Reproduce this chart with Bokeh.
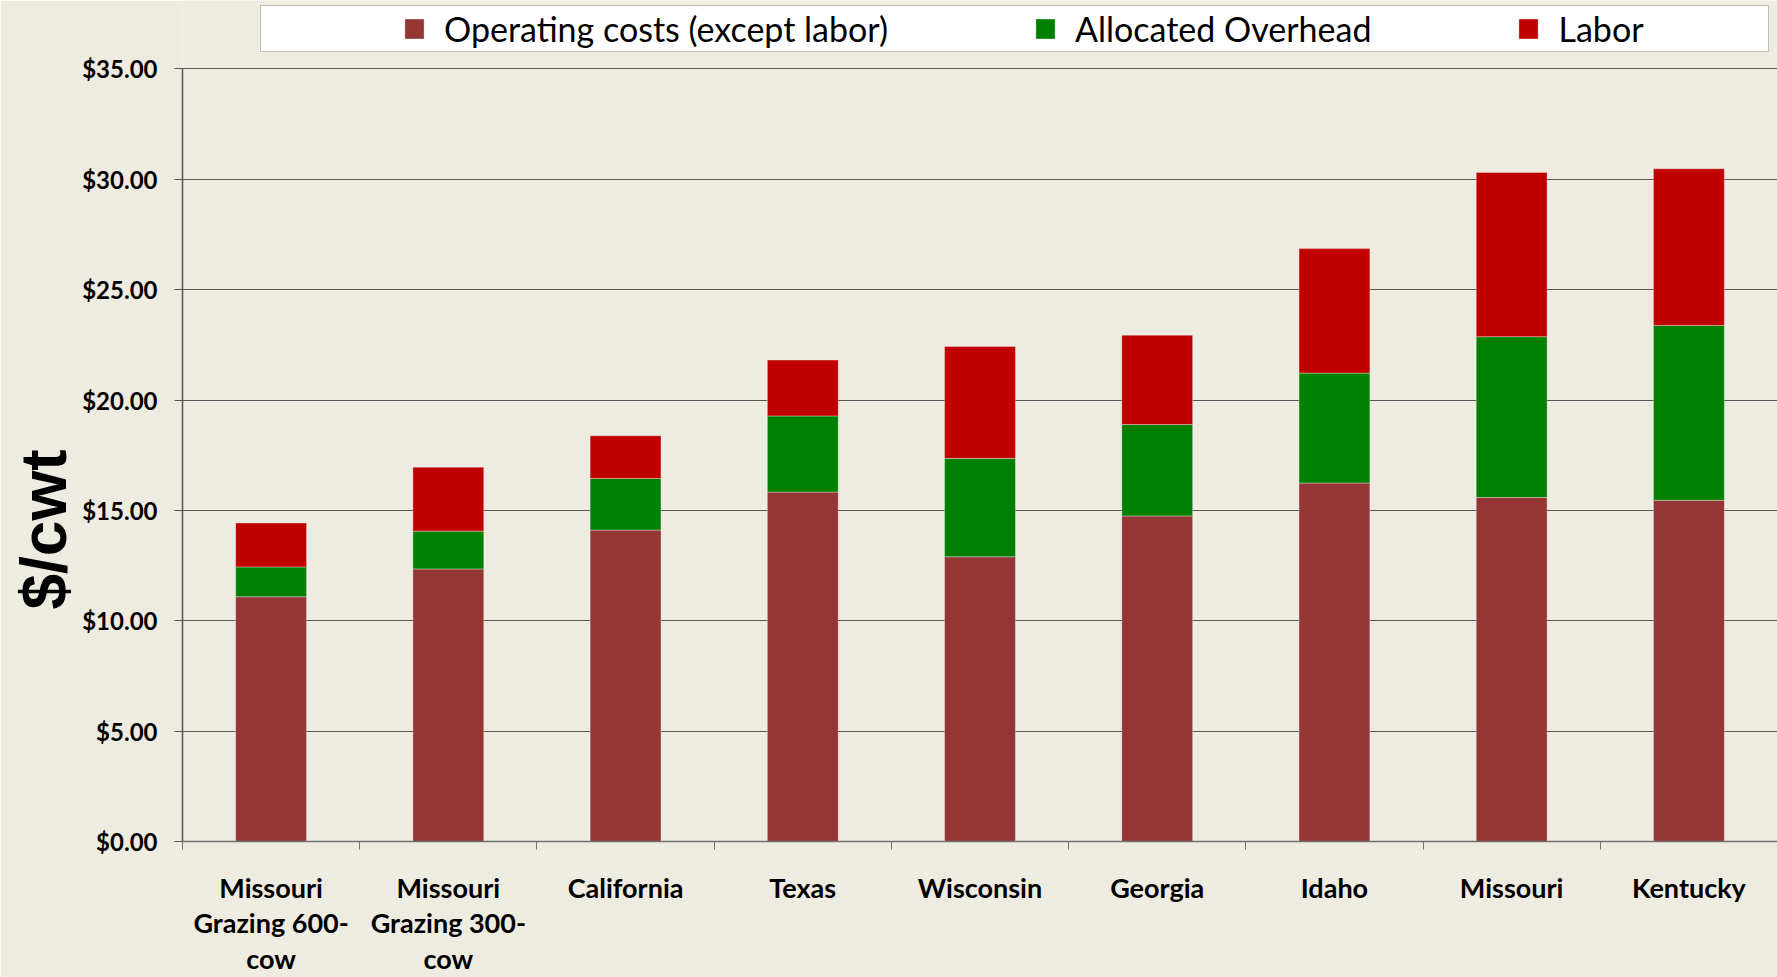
from bokeh.plotting import figure
from bokeh.models import (Range1d, LinearAxis, FixedTicker, NumeralTickFormatter, Legend,
                          LegendItem, Title, ColumnDataSource)
from bokeh.embed import file_html
from bokeh.resources import INLINE

# ---------------- data ----------------
categories = ["Missouri\nGrazing 600-\ncow", "Missouri\nGrazing 300-\ncow", "California", "Texas",
              "Wisconsin", "Georgia", "Idaho", "Missouri", "Kentucky"]
operating = [11.09, 12.35, 14.11, 15.83, 12.90, 14.75, 16.24, 15.59, 15.46]
overhead = [1.35, 1.71, 2.34, 3.45, 4.46, 4.14, 4.98, 7.28, 7.92]
labor = [1.99, 2.90, 1.93, 2.53, 5.06, 4.05, 5.64, 7.44, 7.10]
series_names = ["Operating costs (except labor)", "Allocated Overhead", "Labor"]
y_ticks = [0, 5, 10, 15, 20, 25, 30, 35]
y_title = "$/cwt"

# ---------------- style ----------------
BG = "#EEEBE0"
COLORS = ["#943634", "#008000", "#C00000"]
GRID = "#555555"
FONT = "Lato"

n = len(categories)
centers = [i + 0.5 for i in range(n)]          # category slots on the x scale
bounds = list(range(n + 1))                   # slot boundaries (tick marks)

source = ColumnDataSource(dict(x=centers, cat=categories, operating=operating,
                               overhead=overhead, labor=labor))

# the frame reaches the top of the page so the legend can sit above the $35 line
p = figure(x_range=Range1d(0, n), y_range=Range1d(0, 38.1),
           width=1777, height=977, output_backend="svg", toolbar_location=None,
           x_axis_location=None, background_fill_color=BG, border_fill_color=BG,
           outline_line_color=None, min_border_left=182, min_border_top=0,
           min_border_right=0, min_border_bottom=0)

renderers = p.vbar_stack(["operating", "overhead", "labor"], x="x", width=0.4, source=source,
                         fill_color=COLORS, line_color="white", line_alpha=0.35, line_width=1)

# y axis
yax = p.yaxis[0]
yax.ticker = FixedTicker(ticks=y_ticks)
yax.bounds = (y_ticks[0], y_ticks[-1])
yax.formatter = NumeralTickFormatter(format="$0.00")
yax.major_tick_out = 8
yax.major_tick_in = 0
yax.minor_tick_line_color = None
yax.axis_line_color = GRID
yax.axis_line_width = 1.5
yax.major_tick_line_color = GRID
yax.major_label_text_font = FONT
yax.major_label_text_font_style = "bold"
yax.major_label_text_font_size = "24px"
yax.major_label_text_color = "black"
yax.major_label_standoff = 17

p.ygrid.ticker = FixedTicker(ticks=y_ticks)
p.ygrid.grid_line_color = GRID
p.ygrid.grid_line_width = 1.2
p.xgrid.grid_line_color = None

# x axis: boundary ticks + category labels
tick_axis = LinearAxis(ticker=FixedTicker(ticks=bounds),
                       major_label_overrides={b: "" for b in bounds},
                       major_tick_out=8, major_tick_in=0, minor_tick_line_color=None,
                       major_label_standoff=0, major_label_text_font_size="1px",
                       axis_line_color="#707070", axis_line_width=1.5,
                       major_tick_line_color="#707070")
p.add_layout(tick_axis, "below")

cat_axis = LinearAxis(ticker=FixedTicker(ticks=centers),
                      major_label_overrides={c: lab for c, lab in zip(centers, categories)},
                      axis_line_color=None, major_tick_line_color=None,
                      minor_tick_line_color=None, major_tick_out=0, major_tick_in=0,
                      major_label_standoff=21, major_label_text_font=FONT,
                      major_label_text_font_style="bold", major_label_text_font_size="27px",
                      major_label_text_line_height=1.08, major_label_text_color="black")
p.add_layout(cat_axis, "below")

# y title
p.add_layout(Title(text=y_title, align="left", offset=232, text_font="Liberation Sans",
                   text_font_size="64px", text_font_style="bold", text_color="black",
                   standoff=0), "left")

# legend
legend = Legend(items=[LegendItem(label=nm, renderers=[r]) for nm, r in zip(series_names, renderers)],
                orientation="horizontal", location=(78, 789),
                label_text_font=FONT, label_text_font_size="34px", label_text_color="black",
                glyph_width=24, glyph_height=25, label_standoff=18, spacing=145,
                padding=2, margin=0, label_width=208,
                border_line_color="#7f7f7f", border_line_width=1.5,
                background_fill_color="white", background_fill_alpha=1.0)
if "title_location" in Legend.properties():
    legend.title = " "
    legend.title_location = "left"
    legend.title_standoff = 124
p.add_layout(legend)

open("out.html", "w").write(file_html(p, INLINE))
